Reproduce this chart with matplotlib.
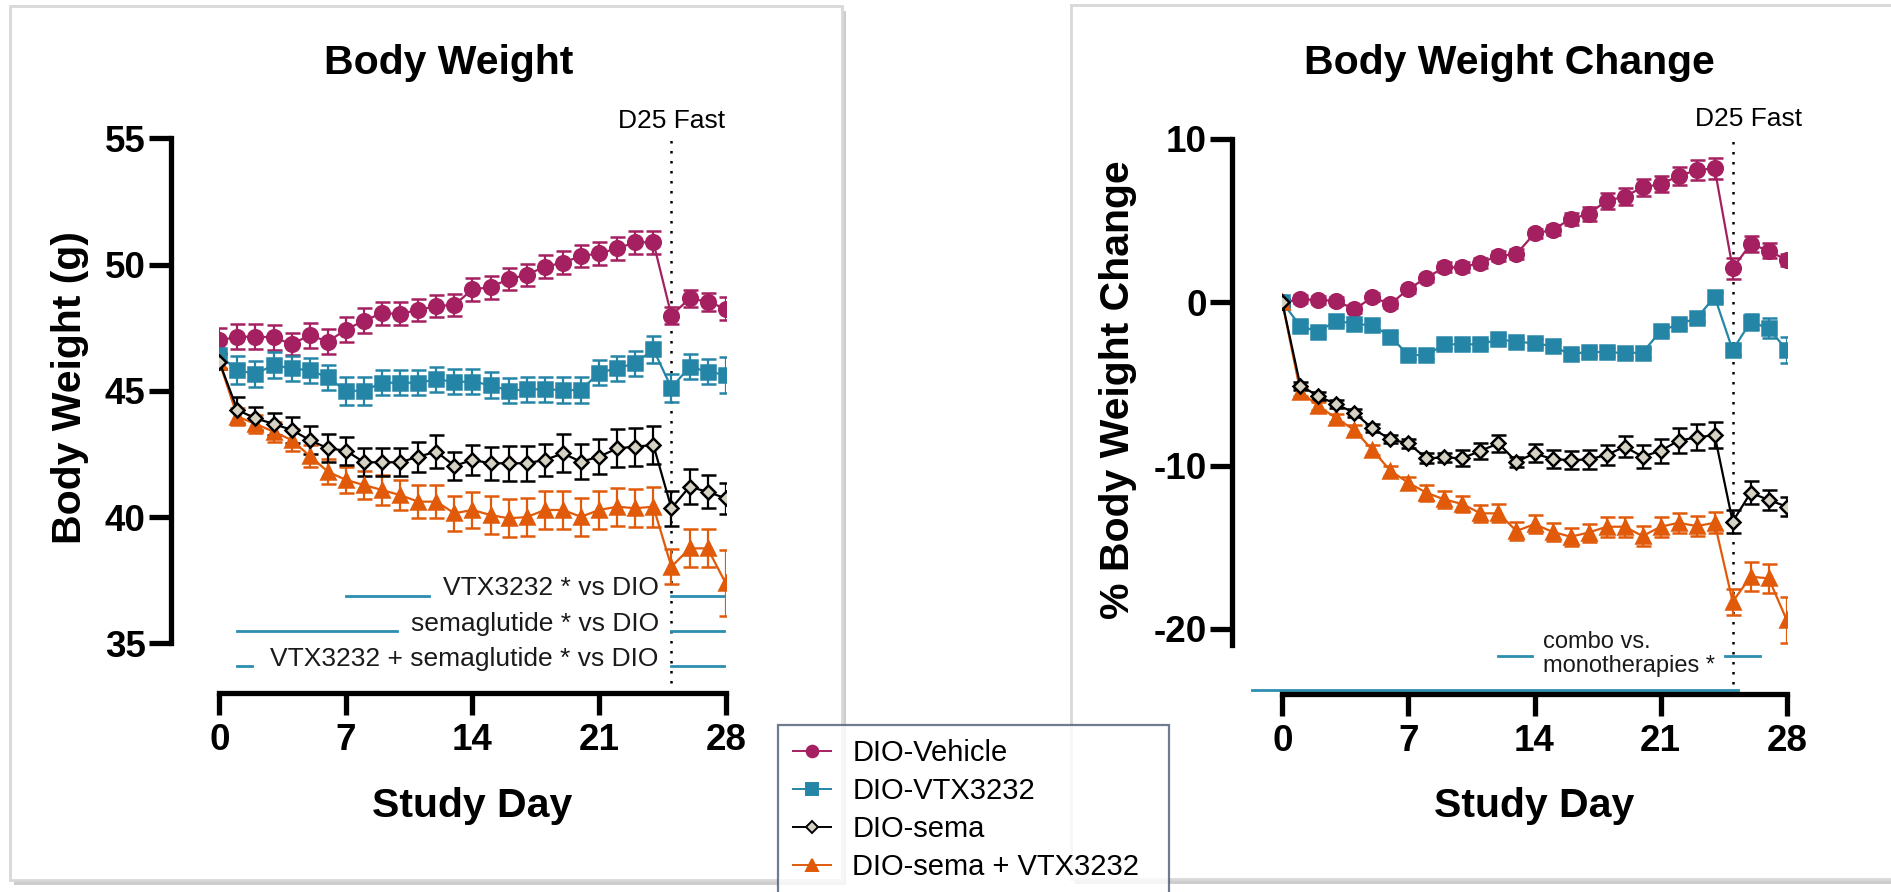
import matplotlib
matplotlib.use('Agg')
import matplotlib.pyplot as plt
from matplotlib.lines import Line2D
from matplotlib.patches import Rectangle

plt.rcParams['font.family'] = ['Liberation Sans', 'DejaVu Sans']
plt.rcParams['axes.unicode_minus'] = False

days = list(range(29))

# body weight (g), mean and SEM per day
bw_vehicle = [47.0, 47.14, 47.14, 47.12, 46.85, 47.2, 46.95, 47.42, 47.78, 48.07, 48.05, 48.2, 48.36, 48.4,
              49.02, 49.1, 49.43, 49.59, 49.92, 50.07, 50.34, 50.44, 50.64, 50.88, 50.88, 47.98, 48.66, 48.53, 48.25]
bw_vehicle_err = [0.5, 0.5, 0.5, 0.5, 0.45, 0.5, 0.5, 0.5, 0.5, 0.45, 0.45, 0.45, 0.45, 0.45, 0.45,
                  0.45, 0.45, 0.45, 0.45, 0.45, 0.45, 0.45, 0.45, 0.45, 0.45, 0.35, 0.35, 0.35, 0.45]
bw_vtx = [46.4, 45.81, 45.67, 46.02, 45.89, 45.81, 45.53, 45.0, 45.0, 45.32, 45.32, 45.32, 45.45, 45.36,
          45.36, 45.23, 45.0, 45.06, 45.06, 45.03, 45.03, 45.72, 45.89, 46.09, 46.64, 45.12, 45.95, 45.76, 45.63]
bw_vtx_err = [0.5, 0.55, 0.5, 0.5, 0.5, 0.5, 0.5, 0.55, 0.55, 0.5, 0.5, 0.5, 0.5, 0.5, 0.5,
              0.5, 0.5, 0.5, 0.5, 0.5, 0.5, 0.5, 0.5, 0.5, 0.55, 0.55, 0.5, 0.5, 0.7]
bw_sema = [46.15, 44.24, 43.91, 43.69, 43.45, 43.05, 42.72, 42.63, 42.17, 42.17, 42.17, 42.39, 42.59, 42.03,
           42.26, 42.13, 42.13, 42.13, 42.26, 42.52, 42.19, 42.39, 42.72, 42.79, 42.85, 40.35, 41.2, 41.0, 40.74]
bw_sema_err = [0.3, 0.5, 0.45, 0.45, 0.5, 0.55, 0.55, 0.55, 0.55, 0.55, 0.55, 0.6, 0.65, 0.55, 0.6,
               0.65, 0.7, 0.7, 0.65, 0.75, 0.7, 0.7, 0.75, 0.75, 0.75, 0.7, 0.7, 0.65, 0.6]
bw_combo = [46.15, 43.98, 43.69, 43.38, 43.05, 42.42, 41.8, 41.47, 41.27, 41.07, 40.87, 40.61, 40.61, 40.15,
            40.28, 40.08, 39.95, 40.0, 40.28, 40.28, 40.01, 40.28, 40.41, 40.35, 40.41, 38.03, 38.76, 38.76, 37.38]
bw_combo_err = [0.3, 0.35, 0.35, 0.4, 0.45, 0.45, 0.5, 0.5, 0.55, 0.6, 0.6, 0.65, 0.65, 0.7, 0.7,
                0.75, 0.75, 0.75, 0.75, 0.75, 0.75, 0.75, 0.75, 0.75, 0.8, 0.7, 0.75, 0.75, 1.3]

# body weight change (%), mean and SEM per day
pct_vehicle = [0.0, 0.18, 0.14, 0.1, -0.43, 0.31, -0.1, 0.81, 1.51, 2.14, 2.14, 2.43, 2.84, 2.96,
               4.22, 4.43, 5.1, 5.41, 6.22, 6.47, 7.04, 7.24, 7.73, 8.1, 8.2, 2.08, 3.57, 3.16, 2.59]
pct_vehicle_err = [0.2, 0.25, 0.25, 0.25, 0.25, 0.25, 0.25, 0.25, 0.25, 0.3, 0.3, 0.3, 0.3, 0.3, 0.3,
                   0.3, 0.35, 0.45, 0.5, 0.5, 0.5, 0.5, 0.55, 0.6, 0.65, 0.65, 0.5, 0.45, 0.35]
pct_vtx = [0.0, -1.45, -1.8, -1.12, -1.33, -1.4, -2.1, -3.23, -3.23, -2.57, -2.57, -2.57, -2.27, -2.41,
           -2.51, -2.68, -3.19, -3.02, -3.06, -3.1, -3.08, -1.76, -1.33, -0.98, 0.34, -2.92, -1.19, -1.59, -2.92]
pct_vtx_err = [0.2, 0.25, 0.25, 0.25, 0.25, 0.25, 0.25, 0.25, 0.25, 0.25, 0.25, 0.25, 0.25, 0.25, 0.25,
               0.25, 0.25, 0.25, 0.25, 0.25, 0.25, 0.25, 0.25, 0.25, 0.3, 0.3, 0.5, 0.6, 0.8]
pct_sema = [0.0, -5.1, -5.74, -6.25, -6.76, -7.72, -8.39, -8.64, -9.55, -9.5, -9.55, -9.09, -8.64, -9.76,
            -9.25, -9.6, -9.66, -9.62, -9.35, -8.84, -9.45, -9.09, -8.47, -8.27, -8.13, -13.43, -11.66, -12.1, -12.51]
pct_sema_err = [0.2, 0.25, 0.25, 0.25, 0.25, 0.25, 0.25, 0.3, 0.3, 0.3, 0.5, 0.5, 0.5, 0.3, 0.55,
                0.55, 0.55, 0.6, 0.6, 0.65, 0.7, 0.75, 0.75, 0.8, 0.8, 0.7, 0.7, 0.6, 0.6]
pct_combo = [0.0, -5.47, -6.35, -7.1, -7.82, -9.04, -10.31, -11.05, -11.66, -12.07, -12.35, -12.92, -12.92, -14.0,
             -13.58, -14.05, -14.35, -14.1, -13.74, -13.74, -14.31, -13.74, -13.5, -13.7, -13.5, -18.33, -16.8, -16.9, -19.45]
pct_combo_err = [0.2, 0.25, 0.25, 0.25, 0.3, 0.3, 0.3, 0.35, 0.5, 0.5, 0.5, 0.5, 0.55, 0.55, 0.55,
                 0.55, 0.55, 0.55, 0.6, 0.6, 0.6, 0.6, 0.6, 0.6, 0.65, 0.8, 0.9, 0.9, 1.4]

labels = ['DIO-Vehicle', 'DIO-VTX3232', 'DIO-sema', 'DIO-sema + VTX3232']
colors = ['#a52060', '#2585a6', '#000000', '#e05a0a']
markers = ['o', 's', 'D', '^']
msizes = [10.5, 10.5, 7.5, 10]
mfaces = ['#a52060', '#2585a6', '#d5d1c3', '#e05a0a']
ann_color = '#2c8db0'

W, H = 1891, 892
fig = plt.figure(figsize=(W / 100, H / 100), dpi=100)


def fx(px):
    return px / W


def fy(py):
    return 1 - py / H


# panel cards
for x0, y0, x1, y1 in [(10, 6, 842, 880), (1071, 5, 1905, 879)]:
    fig.patches.append(Rectangle((fx(x0 + 4), fy(y1 + 5)), (x1 - x0) / W, (y1 - y0) / H,
                                 transform=fig.transFigure, fc='#cdcdcd', ec='none', zorder=-3))
    fig.patches.append(Rectangle((fx(x0), fy(y1)), (x1 - x0) / W, (y1 - y0) / H,
                                 transform=fig.transFigure, fc='white', ec='#d8d8d8', lw=2, zorder=-2))


def setup_axes(ax, ylim, ybounds, yticks, outward):
    ax.set_facecolor('none')
    ax.set_xlim(0, 28)
    ax.set_ylim(*ylim)
    for s in ['top', 'right']:
        ax.spines[s].set_visible(False)
    for s in ['left', 'bottom']:
        ax.spines[s].set_linewidth(3.8)
        ax.spines[s].set_capstyle('projecting')
    ax.spines['left'].set_position(('outward', outward))
    ax.spines['left'].set_bounds(*ybounds)
    ax.spines['bottom'].set_bounds(0, 28)
    ax.set_xticks([0, 7, 14, 21, 28])
    ax.set_yticks(yticks)
    ax.tick_params(axis='both', width=3.8, length=15.5, labelsize=26.5)
    ax.tick_params(axis='y', pad=3)
    ax.tick_params(axis='x', pad=6)
    for t in ax.get_xticklabels() + ax.get_yticklabels():
        t.set_fontweight('bold')
    ax.axvline(25, color='black', lw=1.8, ls=(0, (1, 3)), zorder=1)


order = [0, 1, 3, 2]

# left panel
ax1 = fig.add_axes([fx(219.3), fy(693.3), 506.4 / W, 555 / H])
setup_axes(ax1, (33.02, 55), (35, 55), [35, 40, 45, 50, 55], 34.6)
bw = [(bw_vehicle, bw_vehicle_err), (bw_vtx, bw_vtx_err), (bw_sema, bw_sema_err), (bw_combo, bw_combo_err)]
for i in order:
    ax1.errorbar(days, bw[i][0], yerr=bw[i][1], color=colors[i], marker=markers[i], ms=msizes[i],
                 mfc=mfaces[i], mec=colors[i], mew=1.8, lw=1.6, elinewidth=1.6, capsize=5.4,
                 capthick=1.6, zorder=3)
ax1.text(25, 55.7, 'D25 Fast', ha='center', va='center', fontsize=19, clip_on=False)
# significance bars
ax1.plot([7, 11.6], [36.87, 36.87], color=ann_color, lw=2, clip_on=False)
ax1.plot([25, 27.9], [36.87, 36.87], color=ann_color, lw=2, clip_on=False)
ax1.plot([1, 9.8], [35.48, 35.48], color=ann_color, lw=2, clip_on=False)
ax1.plot([25, 27.9], [35.48, 35.48], color=ann_color, lw=2, clip_on=False)
ax1.plot([1, 1.8], [34.1, 34.1], color=ann_color, lw=2, clip_on=False)
ax1.plot([25, 27.9], [34.1, 34.1], color=ann_color, lw=2, clip_on=False)
ax1.text(24.3, 36.9, 'VTX3232 * vs DIO', ha='right', va='baseline', fontsize=19, color='#1a1a1a')
ax1.text(24.3, 35.5, 'semaglutide * vs DIO', ha='right', va='baseline', fontsize=19, color='#1a1a1a')
ax1.text(24.3, 34.1, 'VTX3232 + semaglutide * vs DIO', ha='right', va='baseline', fontsize=19,
         color='#1a1a1a', clip_on=False)

# right panel
ax2 = fig.add_axes([fx(1282.3), fy(694.3), 504.4 / W, 555.3 / H])
setup_axes(ax2, (-24.0, 10), (-21, 10), [-20, -10, 0, 10], 36)
pct = [(pct_vehicle, pct_vehicle_err), (pct_vtx, pct_vtx_err), (pct_sema, pct_sema_err),
       (pct_combo, pct_combo_err)]
for i in order:
    ax2.errorbar(days, pct[i][0], yerr=pct[i][1], color=colors[i], marker=markers[i], ms=msizes[i],
                 mfc=mfaces[i], mec=colors[i], mew=1.8, lw=1.6, elinewidth=1.6, capsize=5.4,
                 capthick=1.6, zorder=3)
ax2.text(25.9, 11.25, 'D25 Fast', ha='center', va='center', fontsize=19, clip_on=False)
ax2.plot([12, 13.85], [-21.66, -21.66], color=ann_color, lw=2, clip_on=False)
ax2.plot([24.58, 26.5], [-21.66, -21.66], color=ann_color, lw=2, clip_on=False)
ax2.plot([-1.67, 25.3], [-23.74, -23.74], color=ann_color, lw=2, clip_on=False, zorder=1)
ax2.text(14.46, -21.52, 'combo vs.\nmonotherapies *', ha='left', va='center', fontsize=17,
         linespacing=1.1, color='#1a1a1a', clip_on=False)

# titles and axis labels
fig.text(fx(449), fy(62.6), 'Body Weight', ha='center', va='center', fontsize=29.5, fontweight='bold')
fig.text(fx(1509.5), fy(62.6), 'Body Weight Change', ha='center', va='center', fontsize=29.5,
         fontweight='bold')
fig.text(fx(472.5), fy(806), 'Study Day', ha='center', va='center', fontsize=29.5, fontweight='bold')
fig.text(fx(1534.5), fy(806), 'Study Day', ha='center', va='center', fontsize=29.5, fontweight='bold')
fig.text(fx(70), fy(388), 'Body Weight (g)', ha='center', va='center', rotation=90, fontsize=29.5,
         fontweight='bold')
fig.text(fx(1118), fy(390), '% Body Weight Change', ha='center', va='center', rotation=90,
         fontsize=29.5, fontweight='bold')

# legend
handles = [Line2D([], [], color=c, marker=m, ms=ms * 0.8, mfc=mf, mec=c, mew=1.4, lw=1.4)
           for c, m, ms, mf in zip(colors, markers, msizes, mfaces)]
leg = fig.legend(handles, labels, loc='upper left', bbox_to_anchor=(fx(778), fy(725.7), 391 / W, 0.001),
                 mode='expand', borderaxespad=0, fontsize=21, frameon=True, fancybox=False,
                 handlelength=1.3, handletextpad=0.75, labelspacing=0.34, borderpad=0.5)
leg.get_frame().set_edgecolor('#4b5a72')
leg.get_frame().set_linewidth(1.6)

fig.savefig('out.png', dpi=100)
